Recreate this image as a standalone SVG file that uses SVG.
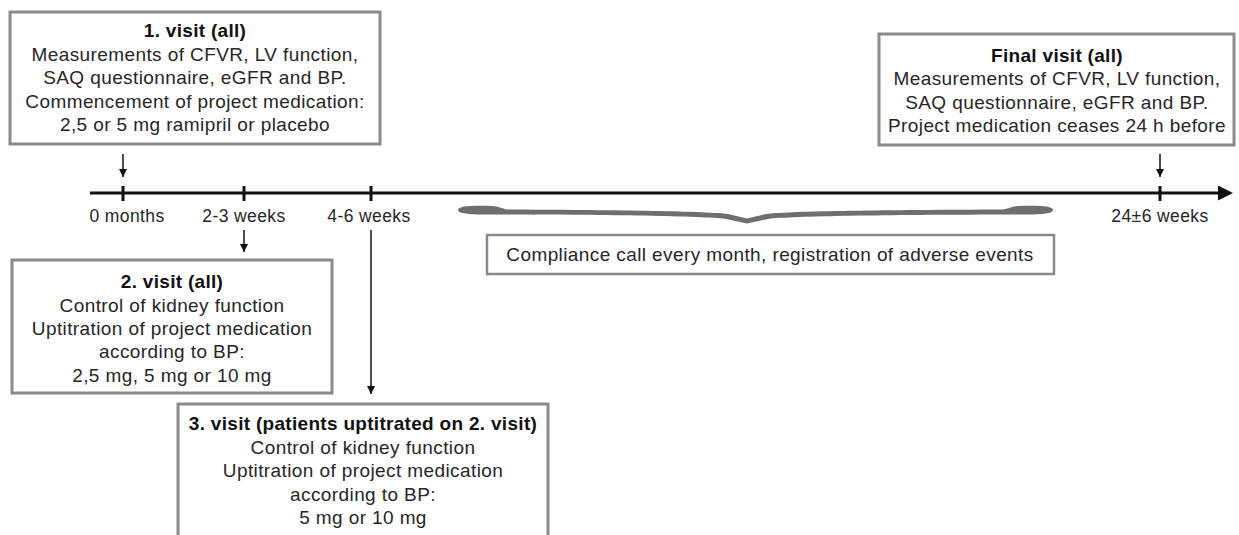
<svg xmlns="http://www.w3.org/2000/svg" width="1239" height="535" viewBox="0 0 1239 535">
<style>
  .box { fill: #ffffff; stroke: #8a8a8a; stroke-width: 3; }
  .box2 { fill: #ffffff; stroke: #8a8a8a; stroke-width: 2.5; }
  .t { font-family: "Liberation Sans", Arial, sans-serif; font-size: 19px; fill: #262626; text-anchor: middle; letter-spacing: 0.4px; }
  .h { font-family: "Liberation Sans", Arial, sans-serif; font-size: 19px; font-weight: bold; fill: #111111; text-anchor: middle; letter-spacing: 0.3px; }
  .lbl { font-family: "Liberation Sans", Arial, sans-serif; font-size: 17.5px; fill: #262626; text-anchor: middle; letter-spacing: 0.4px; }
  .axis { stroke: #111111; stroke-width: 3; fill: none; }
  .tick { stroke: #111111; stroke-width: 3; }
  .conn { stroke: #111111; stroke-width: 1.5; fill: none; marker-end: url(#ah); }
  .brace { fill: #6e6e6e; }
</style>
<defs>
  <marker id="ah" markerUnits="userSpaceOnUse" viewBox="0 0 10 10" refX="10" refY="5" markerWidth="9" markerHeight="8" orient="auto">
    <path d="M0,0 L10,5 L0,10 z" fill="#111111"/>
  </marker>
  <marker id="axh" markerUnits="userSpaceOnUse" viewBox="0 0 10 10" refX="2" refY="5" markerWidth="15" markerHeight="15" orient="auto">
    <path d="M0,0 L10,5 L0,10 z" fill="#111111"/>
  </marker>
</defs>
<rect width="1239" height="535" fill="#ffffff"/>

<g id="timeline">
  <line class="axis" x1="90" y1="193" x2="1221" y2="193" marker-end="url(#axh)"/>
  <line class="tick" x1="123" y1="186" x2="123" y2="201"/>
  <line class="tick" x1="244" y1="186" x2="244" y2="201"/>
  <line class="tick" x1="371" y1="186" x2="371" y2="201"/>
  <line class="tick" x1="1160" y1="186" x2="1160" y2="201"/>
  <text class="lbl" x="127" y="222">0 months</text>
  <text class="lbl" x="244" y="222">2-3 weeks</text>
  <text class="lbl" x="369" y="222">4-6 weeks</text>
  <text class="lbl" x="1160" y="222">24±6 weeks</text>
</g>

<g id="brace">
  <path class="brace" d="M458,210 C458,205.8 472,205.5 492,206 C499,206.3 501,208.5 508,209.6 C610,210.2 700,211 728,214 L747,218.5 L766,214 C794,211 884,210.2 1003,209.6 C1010,208.5 1012,206.3 1019,206 C1039,205.5 1053,205.8 1053,210 C1053,214.2 1039,214.6 1019,214.4 C1012,214.4 1010,214.4 1003,214.6 C884,215 794,216 768,219 L747,223.5 L726,219 C700,216 610,215 508,214.6 C501,214.4 499,214.4 492,214.4 C472,214.6 458,214.2 458,210 Z"/>
</g>

<g id="connectors">
  <line class="conn" x1="123" y1="154" x2="123" y2="177"/>
  <line class="conn" x1="1160" y1="154" x2="1160" y2="177"/>
  <line class="conn" x1="244" y1="230" x2="244" y2="252"/>
  <line class="conn" x1="371" y1="230" x2="371" y2="394"/>
</g>

<g id="node-visit1">
  <rect class="box" x="10" y="12" width="370" height="132"/>
  <text class="h" x="195" y="37">1. visit (all)</text>
  <text class="t" x="195" y="60.5">Measurements of CFVR, LV function,</text>
  <text class="t" x="195" y="84">SAQ questionnaire, eGFR and BP.</text>
  <text class="t" x="195" y="107.5">Commencement of project medication:</text>
  <text class="t" x="195" y="131">2,5 or 5 mg ramipril or placebo</text>
</g>

<g id="node-final">
  <rect class="box" x="879" y="34" width="355" height="111"/>
  <text class="h" x="1057" y="61.5">Final visit (all)</text>
  <text class="t" x="1057" y="85">Measurements of CFVR, LV function,</text>
  <text class="t" x="1057" y="108.5">SAQ questionnaire, eGFR and BP.</text>
  <text class="t" x="1057" y="132">Project medication ceases 24 h before</text>
</g>

<g id="node-compliance">
  <rect class="box2" x="487" y="235" width="567" height="39"/>
  <text class="t" x="770" y="261">Compliance call every month, registration of adverse events</text>
</g>

<g id="node-visit2">
  <rect class="box" x="12" y="260" width="320" height="133"/>
  <text class="h" x="172" y="288">2. visit (all)</text>
  <text class="t" x="172" y="311.5">Control of kidney function</text>
  <text class="t" x="172" y="335">Uptitration of project medication</text>
  <text class="t" x="172" y="358">according to BP:</text>
  <text class="t" x="172" y="381.5">2,5 mg, 5 mg or 10 mg</text>
</g>

<g id="node-visit3">
  <rect class="box" x="178" y="404" width="370" height="145"/>
  <text class="h" x="363" y="430">3. visit (patients uptitrated on 2. visit)</text>
  <text class="t" x="363" y="453.5">Control of kidney function</text>
  <text class="t" x="363" y="477">Uptitration of project medication</text>
  <text class="t" x="363" y="500.5">according to BP:</text>
  <text class="t" x="363" y="524">5 mg or 10 mg</text>
</g>
</svg>
